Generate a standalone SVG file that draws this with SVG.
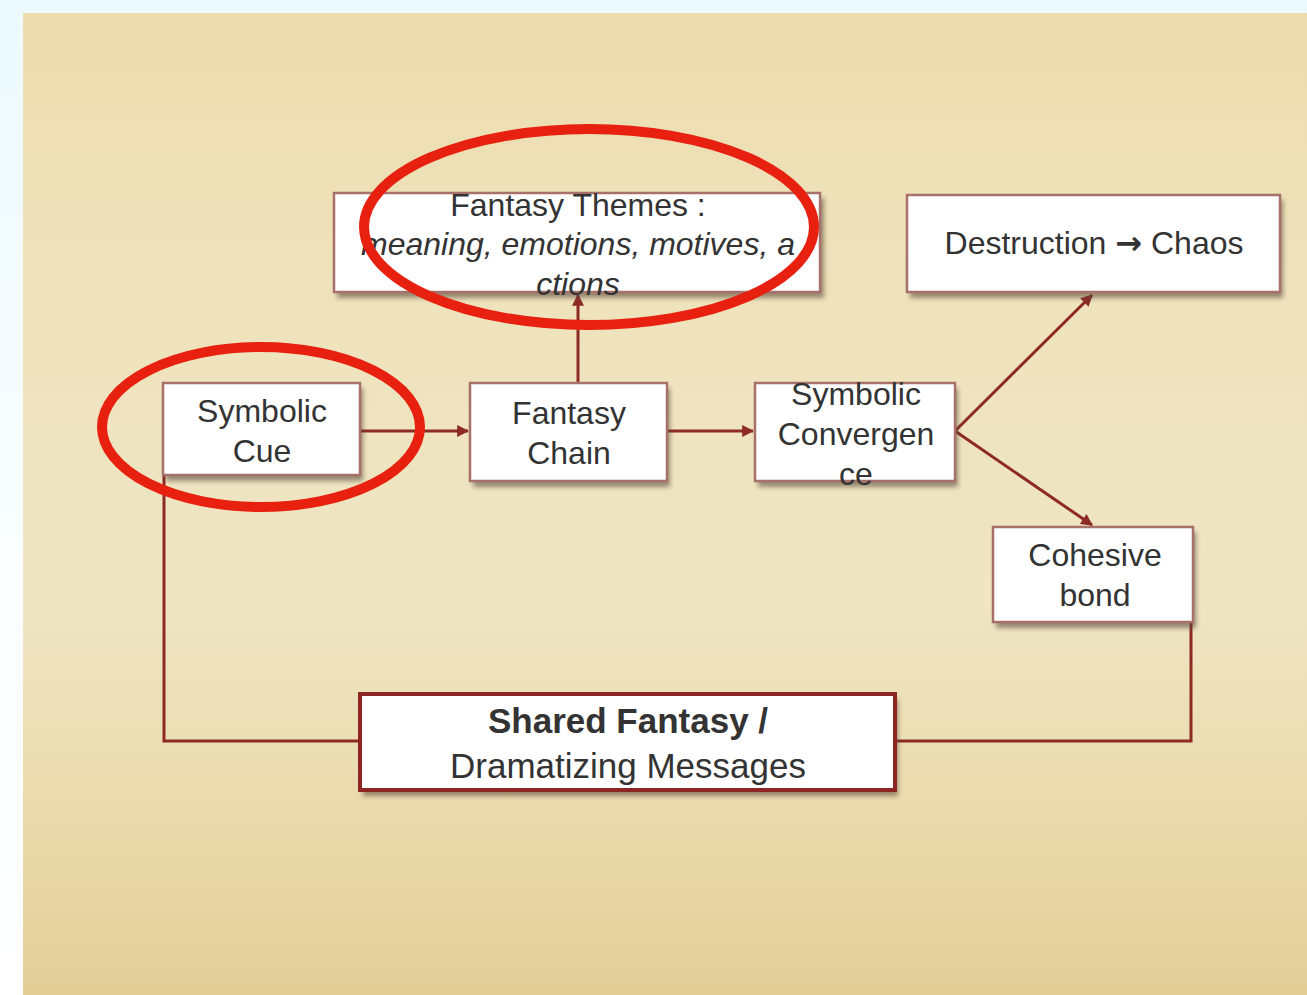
<svg xmlns="http://www.w3.org/2000/svg" width="1307" height="995" viewBox="0 0 1307 995">
<defs>
<linearGradient id="edge" x1="0" y1="0" x2="0" y2="1">
<stop offset="0" stop-color="#ecfaff"/>
<stop offset="0.5" stop-color="#f8fdff"/>
<stop offset="1" stop-color="#ffffff"/>
</linearGradient>
<linearGradient id="paper" x1="0" y1="0" x2="0" y2="1">
<stop offset="0" stop-color="#ecdcae"/>
<stop offset="0.3" stop-color="#efe3bd"/>
<stop offset="0.6" stop-color="#efe5c3"/>
<stop offset="0.85" stop-color="#e9d9a9"/>
<stop offset="1" stop-color="#e2cd97"/>
</linearGradient>
<filter id="sh" x="-10%" y="-10%" width="120%" height="140%">
<feGaussianBlur stdDeviation="2.5"/>
</filter>
<marker id="ah" viewBox="0 0 10 10" refX="9" refY="5" markerWidth="4" markerHeight="4" orient="auto" markerUnits="strokeWidth">
<path d="M0,0 L10,5 L0,10 z" fill="#8e2a24"/>
</marker>
<style>
.shadow{fill:#5a4a3a;opacity:0.6;filter:url(#sh)}
.box{fill:#ffffff;stroke:#a8706a;stroke-width:2.5}
.boxb{fill:#ffffff;stroke:#8e2424;stroke-width:4}
.t{font-family:"Liberation Sans",Arial,sans-serif;font-size:32px;fill:#333333;text-anchor:middle}
.it{font-style:italic}
.big{font-size:35px}
.bold{font-weight:bold}
.arr{font-family:"DejaVu Sans",sans-serif;font-weight:bold}
.conn{fill:none;stroke:#8e2a24;stroke-width:3}
.ring{fill:none;stroke:#e8200f;stroke-width:10}
</style>
</defs>
<rect x="0" y="0" width="1307" height="995" fill="url(#edge)"/>
<rect x="23" y="13" width="1284" height="982" fill="url(#paper)"/>

<g id="connectors">
<line class="conn" x1="360" y1="431" x2="468" y2="431" marker-end="url(#ah)"/>
<line class="conn" x1="667" y1="431" x2="753" y2="431" marker-end="url(#ah)"/>
<line class="conn" x1="578" y1="383" x2="578" y2="295" marker-end="url(#ah)"/>
<line class="conn" x1="955" y1="431" x2="1092" y2="295" marker-end="url(#ah)"/>
<line class="conn" x1="955" y1="431" x2="1092" y2="525" marker-end="url(#ah)"/>
<polyline class="conn" points="1191,622 1191,741 895,741"/>
<polyline class="conn" points="360,741 164,741 164,475"/>
</g>

<g id="node-fantasy-themes">
<rect class="shadow" x="337" y="198" width="487" height="100"/>
<rect class="box" x="334" y="193" width="486" height="99"/>
<text class="t" x="578" y="216">Fantasy Themes :</text>
<text class="t it" x="578" y="255">meaning, emotions, motives, a</text>
<text class="t it" x="578" y="295">ctions</text>
</g>

<g id="node-destruction">
<rect class="shadow" x="910" y="200" width="373" height="98"/>
<rect class="box" x="907" y="195" width="373" height="97"/>
<text class="t" x="1094" y="254">Destruction <tspan class="arr">→</tspan> Chaos</text>
</g>

<g id="node-symbolic-cue">
<rect class="shadow" x="166" y="388" width="197" height="93"/>
<rect class="box" x="163" y="383" width="197" height="92"/>
<text class="t" x="262" y="422">Symbolic</text>
<text class="t" x="262" y="462">Cue</text>
</g>

<g id="node-fantasy-chain">
<rect class="shadow" x="473" y="388" width="197" height="99"/>
<rect class="box" x="470" y="383" width="197" height="98"/>
<text class="t" x="569" y="424">Fantasy</text>
<text class="t" x="569" y="464">Chain</text>
</g>

<g id="node-symbolic-convergence">
<rect class="shadow" x="758" y="388" width="200" height="99"/>
<rect class="box" x="755" y="383" width="200" height="98"/>
<text class="t" x="856" y="405">Symbolic</text>
<text class="t" x="856" y="445">Convergen</text>
<text class="t" x="856" y="485">ce</text>
</g>

<g id="node-cohesive-bond">
<rect class="shadow" x="996" y="532" width="200" height="96"/>
<rect class="box" x="993" y="527" width="200" height="95"/>
<text class="t" x="1095" y="566">Cohesive</text>
<text class="t" x="1095" y="606">bond</text>
</g>

<g id="node-shared-fantasy">
<rect class="shadow" x="363" y="699" width="535" height="97"/>
<rect class="boxb" x="360" y="694" width="535" height="96"/>
<text class="t big bold" x="628" y="733">Shared Fantasy /</text>
<text class="t big" x="628" y="778">Dramatizing Messages</text>
</g>

<g id="highlights">
<ellipse class="ring" cx="589" cy="227" rx="225" ry="98"/>
<ellipse class="ring" cx="261" cy="427" rx="159" ry="80"/>
</g>
</svg>
